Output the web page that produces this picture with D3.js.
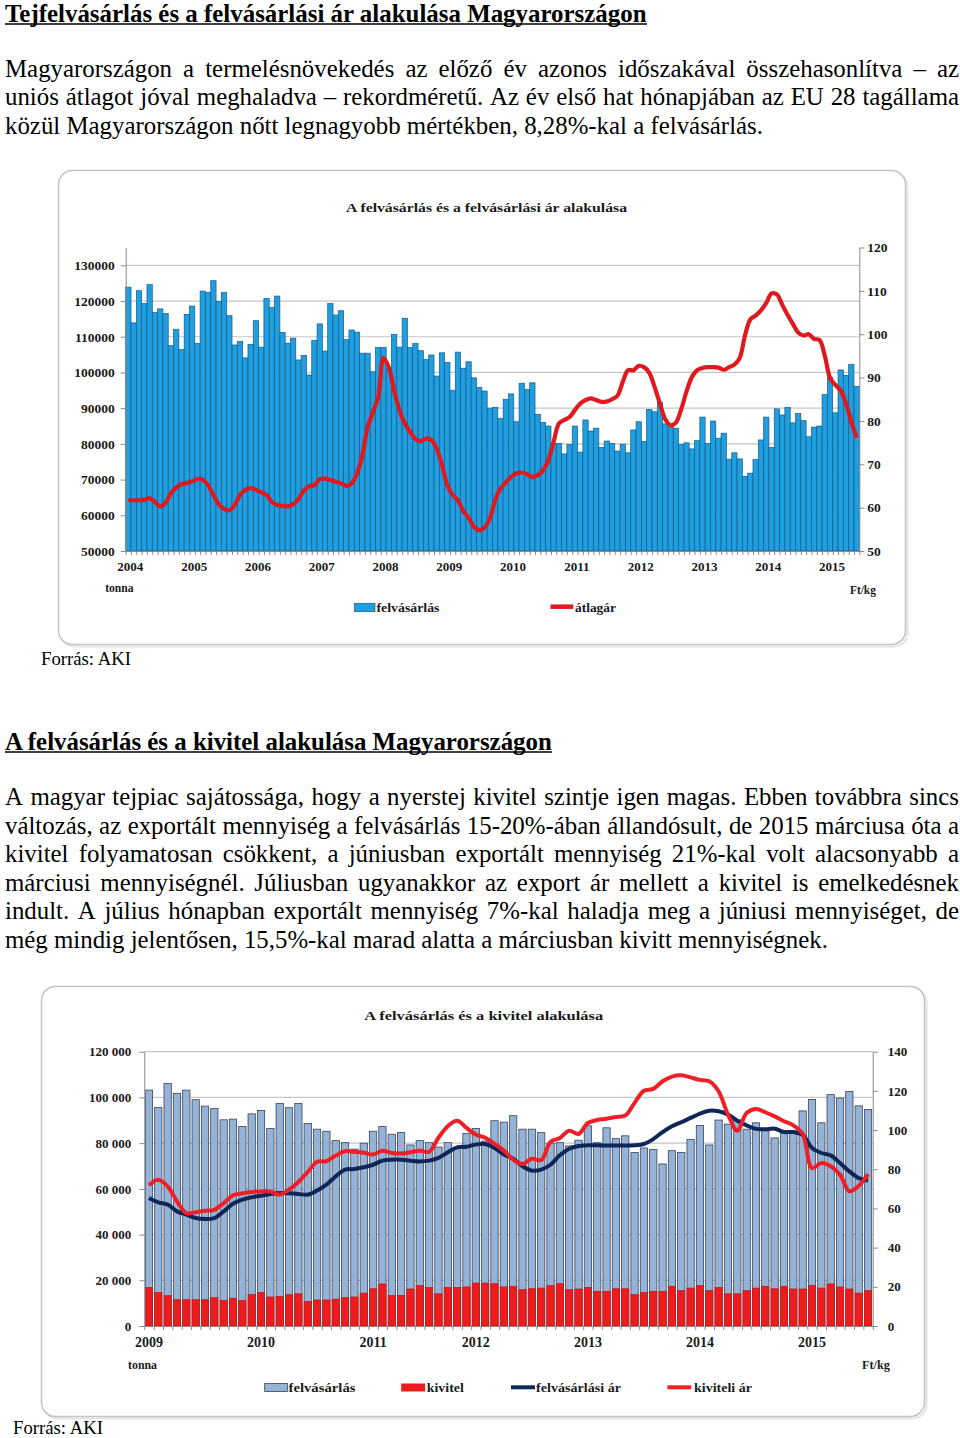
<!DOCTYPE html>
<html>
<head>
<meta charset="utf-8">
<script src="https://cdn.jsdelivr.net/npm/d3@7"></script>
<style>
  html, body { margin: 0; padding: 0; background: #fff; }
  #page { width: 960px; height: 1438px; position: relative; overflow: hidden; }
</style>
</head>
<body>
<div id="page"></div>
<script>
// ---------------- DATA ----------------
function monthRange(y0, m0, y1, m1) {
  const out = [];
  for (let y = y0; y <= y1; y++) for (let m = 1; m <= 12; m++) {
    if ((y === y0 && m < m0) || (y === y1 && m > m1)) continue;
    out.push(y + "-" + String(m).padStart(2, "0"));
  }
  return out;
}
// Chart 1: 2004-01 .. 2015-06
const months1 = monthRange(2004, 1, 2015, 6);
// felvásárlás (tonna)
const purchase1 = [
  123900, 113900, 122900, 119300, 124600, 116800, 117800, 116500, 107500, 112100, 106400, 116300,
  118600, 108100, 122800, 122400, 125700, 119900, 122400, 115900, 107700, 108700, 104100, 107900,
  114500, 107100, 120700, 118200, 121400, 111200, 108200, 109600, 103500, 104800, 99300, 109000,
  113600, 106000, 119300, 116100, 117300, 109200, 111900, 111300, 105400, 105400, 100200, 107000,
  107000, 101000, 110700, 107100, 115200, 107000, 108100, 106100, 103600, 104900, 99000, 105500,
  102800, 95000, 105700, 101200, 103000, 98500, 95800, 94800, 90000, 90200, 87100, 92500,
  94000, 86200, 97000, 95200, 97100, 88300, 86000, 85000, 80100, 80100, 77200, 79800,
  85000, 77700, 86700, 83600, 84400, 79000, 80800, 80100, 78000, 79900, 77500, 83900,
  86200, 80700, 89600, 89000, 91700, 85600, 84800, 84400, 79800, 80300, 78600, 80900,
  87500, 80100, 86400, 81600, 83000, 75700, 77500, 75800, 70900, 71800, 75600, 81100,
  87500, 79000, 89800, 88100, 90200, 85900, 88500, 86500, 82000, 84700, 85000, 93800,
  98700, 88700, 100700, 99200, 102200, 96100
];
// átlagár (Ft/kg)
const price1 = [
  61.7, 61.7, 61.7, 61.8, 62.2, 61.3, 60.3, 61.1, 63.3, 64.6, 65.4, 65.7,
  66.1, 66.6, 66.4, 65.2, 62.9, 60.8, 59.7, 59.4, 60.6, 62.9, 64.1, 64.5,
  64.1, 63.5, 62.9, 61.3, 60.6, 60.4, 60.3, 60.8, 62.0, 63.9, 64.9, 65.2,
  66.6, 66.7, 66.4, 66.0, 65.6, 65.0, 65.6, 67.8, 72.0, 78.5, 82.0, 85.5,
  94.5, 92.3, 87.0, 82.5, 79.4, 77.5, 75.8, 75.3, 75.9, 75.6, 73.6, 69.8,
  65.2, 62.9, 61.7, 59.2, 57.7, 55.6, 54.8, 55.4, 57.5, 61.7, 64.4, 65.8,
  67.1, 67.9, 68.1, 67.7, 67.1, 67.5, 68.6, 70.9, 75.2, 79.4, 80.2, 80.9,
  82.5, 84.0, 84.8, 85.2, 84.8, 84.4, 84.5, 85.0, 85.8, 89.0, 91.7, 91.7,
  92.7, 92.4, 91.1, 87.8, 84.0, 80.4, 79.0, 79.6, 82.7, 86.8, 90.1, 91.7,
  92.2, 92.4, 92.4, 92.3, 91.8, 92.4, 93.0, 94.5, 99.7, 103.4, 104.3, 105.5,
  107.2, 109.4, 109.2, 106.8, 104.5, 102.4, 100.4, 99.7, 100.0, 98.9, 98.7, 95.1,
  89.9, 88.3, 87.0, 84.0, 79.8, 76.1
];
const leftTicks1 = [50000, 60000, 70000, 80000, 90000, 100000, 110000, 120000, 130000];
const rightTicks1 = [50, 60, 70, 80, 90, 100, 110, 120];

// Chart 2: 2009-01 .. 2015-07 (February 2011 is absent from the chart)
const missing2 = ["2011-02"];
const months2 = monthRange(2009, 1, 2015, 7).filter(m => !missing2.includes(m));
const purchase2 = [
  103200, 95600, 106100, 101800, 103200, 99000, 96200, 95200, 90200, 90500, 87300, 92800,
  94300, 86400, 97400, 95500, 97400, 88600, 86100, 85200, 81100, 80200, 77400, 80000,
  85200, 87300, 83900, 84600, 79200, 81100, 80200, 78300, 80200, 77700, 84200,
  86400, 80900, 89800, 89200, 92000, 86100, 86100, 84600, 80000, 80200, 78800, 81300,
  87600, 80200, 86700, 82000, 83200, 75900, 77900, 77200, 70900, 76700, 75900, 81600,
  87700, 79200, 90100, 88300, 90200, 86100, 88900, 85400, 82300, 85400, 85400, 94100,
  99100, 88900, 101200, 99700, 102600, 96300, 94700
];
const export2 = [
  16900, 14700, 13300, 11500, 11500, 11500, 11500, 12400, 11200, 12200, 11200, 13700,
  14700, 12700, 13000, 13700, 14100, 10800, 11400, 11400, 11800, 12500, 12700, 14400,
  16300, 18400, 13400, 13400, 16200, 17700, 16900, 14100, 16900, 16900, 17100,
  18800, 18800, 18500, 17100, 17400, 15900, 16300, 16600, 17700, 18500, 15900, 16200,
  16900, 15200, 15200, 16300, 16300, 13700, 14700, 15200, 15200, 17400, 15500, 16600,
  17700, 15500, 16900, 14100, 14100, 15500, 16600, 17400, 16300, 17400, 16200, 16200,
  17800, 16600, 18400, 17100, 16200, 14400, 15500
];
const purchasePrice2 = [
  65.3, 63.1, 62.0, 58.5, 56.8, 55.1, 54.6, 55.1, 58.5, 62.4, 64.5, 65.7,
  66.5, 67.4, 67.9, 67.7, 67.4, 67.0, 69.1, 72.2, 76.4, 79.8, 80.1, 81.0,
  82.3, 84.4, 84.9, 84.9, 84.4, 84.0, 84.4, 85.8, 88.7, 91.2, 91.5,
  92.6, 92.9, 90.9, 87.5, 85.4, 81.5, 79.3, 79.8, 82.3, 87.1, 90.5, 91.9,
  92.2, 92.2, 92.1, 92.1, 92.1, 92.2, 92.9, 95.4, 99.0, 101.9, 104.0, 106.2,
  108.4, 109.9, 109.6, 107.9, 104.8, 102.4, 100.6, 100.4, 100.7, 99.0, 99.0, 97.6,
  90.9, 88.3, 87.1, 83.2, 78.9, 75.5, 74.3
];
const exportPrice2 = [
  71.8, 74.7, 71.3, 63.6, 57.6, 58.1, 58.8, 59.3, 62.7, 66.7, 67.7, 68.4,
  68.7, 68.6, 67.0, 69.6, 73.5, 78.6, 83.8, 84.1, 87.0, 89.2, 88.9, 88.4,
  87.5, 89.5, 88.3, 88.0, 88.7, 89.5, 88.9, 96.1, 102.0, 104.8, 101.1,
  97.7, 96.1, 93.0, 89.5, 84.9, 82.7, 85.4, 84.7, 93.9, 96.0, 99.7, 98.0,
  103.6, 105.2, 105.8, 106.7, 107.4, 113.9, 120.1, 121.0, 124.9, 127.3, 128.0, 126.9,
  125.6, 124.9, 119.8, 107.9, 99.7, 108.7, 110.8, 109.1, 107.0, 104.5, 102.4, 98.0,
  80.6, 83.2, 81.5, 77.2, 68.8, 71.5, 77.5
];
const leftTicks2 = [0, 20000, 40000, 60000, 80000, 100000, 120000];
const rightTicks2 = [0, 20, 40, 60, 80, 100, 120, 140];

// ---------------- TEXT ----------------
const heading1 = "Tejfelvásárlás és a felvásárlási ár alakulása Magyarországon";
const para1 = [
  "Magyarországon a termelésnövekedés az előző év azonos időszakával összehasonlítva – az",
  "uniós átlagot jóval meghaladva – rekordméretű. Az év első hat hónapjában az EU 28 tagállama",
  "közül Magyarországon nőtt legnagyobb mértékben, 8,28%-kal a felvásárlás."
];
const heading2 = "A felvásárlás és a kivitel alakulása Magyarországon";
const para2 = [
  "A magyar tejpiac sajátossága, hogy a nyerstej kivitel szintje igen magas. Ebben továbbra sincs",
  "változás, az exportált mennyiség a felvásárlás 15-20%-ában állandósult, de 2015 márciusa óta a",
  "kivitel folyamatosan csökkent, a júniusban exportált mennyiség 21%-kal volt alacsonyabb a",
  "márciusi mennyiségnél. Júliusban ugyanakkor az export ár mellett a kivitel is emelkedésnek",
  "indult. A július hónapban exportált mennyiség 7%-kal haladja meg a júniusi mennyiséget, de",
  "még mindig jelentősen, 15,5%-kal marad alatta a márciusban kivitt mennyiségnek."
];
const sourceText = "Forrás: AKI";
const title1 = "A felvásárlás és a felvásárlási ár alakulása";
const title2 = "A felvásárlás és a kivitel alakulása";

// ---------------- DRAW ----------------
const SERIF = "'Liberation Serif','Times New Roman',serif";
const svg = d3.select("#page").append("svg")
  .attr("width", 960).attr("height", 1438)
  .style("position", "absolute").style("left", 0).style("top", 0);
svg.append("rect").attr("width", 960).attr("height", 1438).attr("fill", "#fff");

function measure(text, weight, size) {
  const t = svg.append("text").attr("font-family", SERIF).attr("font-weight", weight)
    .attr("font-size", size).text(text);
  const w = t.node().getComputedTextLength();
  t.remove();
  return w;
}
function fitSize(text, weight, width) { return 100 * width / measure(text, weight, 100); }

function plainLine(text, x, y, size, weight) {
  return svg.append("text").attr("x", x).attr("y", y).attr("font-family", SERIF)
    .attr("font-size", size).attr("font-weight", weight || "normal").attr("fill", "#000").text(text);
}
function justifiedLine(text, x0, x1, y, size) {
  const words = text.split(" ");
  const g = svg.append("g").attr("font-family", SERIF).attr("font-size", size).attr("fill", "#000");
  const nodes = words.map(w => g.append("text").attr("y", y).text(w));
  const widths = nodes.map(n => n.node().getComputedTextLength());
  const gap = (x1 - x0 - d3.sum(widths)) / (words.length - 1);
  let x = x0;
  nodes.forEach((n, i) => { n.attr("x", x); x += widths[i] + gap; });
}
function heading(text, x, y, width) {
  const s = fitSize(text, "bold", width);
  plainLine(text, x, y, s, "bold");
  svg.append("line").attr("x1", x).attr("x2", x + width).attr("y1", y + 2.5).attr("y2", y + 2.5)
    .attr("stroke", "#000").attr("stroke-width", 1.4);
}

heading(heading1, 5, 21.5, 642);
const p1size = fitSize(para1[2], "normal", 758);
para1.forEach((l, i) => {
  const y = 76.5 + i * 28.5;
  if (i < para1.length - 1) justifiedLine(l, 5, 959, y, p1size);
  else plainLine(l, 5, y, p1size);
});
const srcSize = fitSize(sourceText, "normal", 90);
plainLine(sourceText, 41, 665, srcSize);

heading(heading2, 5, 749.5, 547);
const p2size = fitSize(para2[5], "normal", 823);
para2.forEach((l, i) => {
  const y = 805 + i * 28.6;
  if (i < para2.length - 1) justifiedLine(l, 5, 959, y, p2size);
  else plainLine(l, 5, y, p2size);
});
plainLine(sourceText, 13, 1434, srcSize);

function styleAxis(g, size) {
  g.select(".domain").attr("stroke", "#8a8a8a").attr("stroke-width", 1);
  g.selectAll(".tick line").attr("stroke", "#8a8a8a");
  g.selectAll(".tick text").attr("font-family", SERIF).attr("font-weight", "bold")
    .attr("font-size", size).attr("fill", "#1a1a1a");
}
function smallText(text, x, y, width, anchor, size) {
  svg.append("text").attr("x", x).attr("y", y).attr("font-family", SERIF).attr("font-weight", "bold")
    .attr("font-size", size || 12).attr("text-anchor", anchor || "start").attr("fill", "#1a1a1a")
    .attr("textLength", width).attr("lengthAdjust", "spacingAndGlyphs").text(text);
}
function frame(x, y, w, h) {
  svg.append("rect").attr("x", x + 2).attr("y", y + 2).attr("width", w).attr("height", h).attr("rx", 14)
    .attr("fill", "none").attr("stroke", "#e4e4e4").attr("stroke-width", 2);
  svg.append("rect").attr("x", x).attr("y", y).attr("width", w).attr("height", h).attr("rx", 14)
    .attr("fill", "#fff").attr("stroke", "#c4c4c4").attr("stroke-width", 1.5);
}

// ===== Chart 1 =====
(function () {
  frame(58.5, 170.5, 847, 474);
  const L = 125.7, R = 859.3, B = 551, T = 247.5;
  const x = d3.scaleBand().domain(months1).range([L, R]).padding(0);
  const xi = d3.scaleLinear().domain([0, months1.length]).range([L, R]);
  const yL = d3.scaleLinear().domain([50000, 135000]).range([B, T]);
  const yR = d3.scaleLinear().domain([50, 120]).range([B, T]);

  smallText(title1, 486.5, 211.5, 281, "middle", 13);

  svg.append("g").selectAll("line").data(leftTicks1.filter(v => v > 50000)).join("line")
    .attr("x1", L).attr("x2", R).attr("y1", d => yL(d)).attr("y2", d => yL(d))
    .attr("stroke", "#c6c6c6").attr("stroke-width", 1.2);

  svg.append("g").selectAll("rect").data(purchase1).join("rect")
    .attr("x", (d, i) => x(months1[i])).attr("width", x.bandwidth())
    .attr("y", d => yL(d)).attr("height", d => B - yL(d))
    .attr("fill", "#1f9fdf").attr("stroke", "#165a88").attr("stroke-width", 0.7);

  const line = d3.line().x((d, i) => x(months1[i]) + x.bandwidth() / 2).y(d => yR(d))
    .curve(d3.curveCatmullRom.alpha(0.5));
  svg.append("path").attr("d", line(price1)).attr("fill", "none")
    .attr("stroke", "#e0191e").attr("stroke-width", 4.2).attr("stroke-linejoin", "round");

  const gl = svg.append("g").attr("transform", `translate(${L},0)`)
    .call(d3.axisLeft(yL).tickValues(leftTicks1).tickFormat(d3.format("d")).tickSize(5).tickSizeOuter(0).tickPadding(6));
  styleAxis(gl, 13.5);
  const gr = svg.append("g").attr("transform", `translate(${R},0)`)
    .call(d3.axisRight(yR).tickValues(rightTicks1).tickSize(5).tickSizeOuter(0).tickPadding(3));
  styleAxis(gr, 13.5);
  const gb = svg.append("g").attr("transform", `translate(0,${B})`)
    .call(d3.axisBottom(xi).tickValues(d3.range(0, months1.length + 1)).tickFormat("").tickSize(4).tickSizeOuter(0));
  styleAxis(gb, 12);
  const gy = svg.append("g").attr("transform", `translate(2,${B})`)
    .call(d3.axisBottom(x).tickValues(months1.filter(m => m.endsWith("-01"))).tickFormat(m => m.slice(0, 4)).tickSize(0).tickPadding(11));
  gy.select(".domain").remove();
  styleAxis(gy, 13);

  smallText("tonna", 105.2, 592, 28.4, "start", 11.5);
  smallText("Ft/kg", 850, 594, 25.8, "start", 11.5);

  svg.append("rect").attr("x", 354.3).attr("y", 603.3).attr("width", 20.7).attr("height", 8.4)
    .attr("fill", "#1f9fdf").attr("stroke", "#165a88").attr("stroke-width", 0.7);
  smallText("felvásárlás", 376.5, 612, 63, "start", 13);
  svg.append("line").attr("x1", 550.5).attr("x2", 573.3).attr("y1", 606.7).attr("y2", 606.7)
    .attr("stroke", "#e0191e").attr("stroke-width", 4.5);
  smallText("átlagár", 575, 612, 41, "start", 13);
})();

// ===== Chart 2 =====
(function () {
  frame(41.5, 986.5, 883, 430);
  const L = 144.3, R = 872.7, B = 1326, T = 1051.7;
  const x = d3.scaleBand().domain(months2).range([L, R]).paddingInner(0.22).paddingOuter(0.11);
  const xi = d3.scaleLinear().domain([0, months2.length]).range([L, R]);
  const yL = d3.scaleLinear().domain([0, 120000]).range([B, T]);
  const yR = d3.scaleLinear().domain([0, 140]).range([B, T]);
  const fmt = d3.formatLocale({ decimal: ",", thousands: " ", grouping: [3], currency: ["", ""] }).format(",d");

  smallText(title2, 483.7, 1020, 239, "middle", 13);

  svg.append("g").selectAll("line").data(leftTicks2.filter(v => v > 0)).join("line")
    .attr("x1", L).attr("x2", R).attr("y1", d => yL(d)).attr("y2", d => yL(d))
    .attr("stroke", "#c6c6c6").attr("stroke-width", 1.2);

  svg.append("g").selectAll("rect").data(purchase2).join("rect")
    .attr("x", (d, i) => x(months2[i])).attr("width", x.bandwidth())
    .attr("y", d => yL(d)).attr("height", d => B - yL(d))
    .attr("fill", "#95b3d7").attr("stroke", "#37445a").attr("stroke-width", 0.8);
  svg.append("g").selectAll("rect").data(export2).join("rect")
    .attr("x", (d, i) => x(months2[i])).attr("width", x.bandwidth())
    .attr("y", d => yL(d)).attr("height", d => B - yL(d))
    .attr("fill", "#ee1c1c").attr("stroke", "#b81414").attr("stroke-width", 0.6);

  const line = d3.line().x((d, i) => x(months2[i]) + x.bandwidth() / 2).y(d => yR(d))
    .curve(d3.curveCatmullRom.alpha(0.5));
  svg.append("path").attr("d", line(purchasePrice2)).attr("fill", "none")
    .attr("stroke", "#0e2658").attr("stroke-width", 4).attr("stroke-linejoin", "round");
  svg.append("path").attr("d", line(exportPrice2)).attr("fill", "none")
    .attr("stroke", "#ee1f26").attr("stroke-width", 4).attr("stroke-linejoin", "round");

  const gl = svg.append("g").attr("transform", `translate(${L},0)`)
    .call(d3.axisLeft(yL).tickValues(leftTicks2).tickFormat(fmt).tickSize(5).tickSizeOuter(0).tickPadding(8));
  styleAxis(gl, 13);
  const gr = svg.append("g").attr("transform", `translate(${R},0)`)
    .call(d3.axisRight(yR).tickValues(rightTicks2).tickSize(5).tickSizeOuter(0).tickPadding(10));
  styleAxis(gr, 13);
  const gb = svg.append("g").attr("transform", `translate(0,${B})`)
    .call(d3.axisBottom(xi).tickValues(d3.range(0, months2.length + 1)).tickFormat("").tickSize(4).tickSizeOuter(0));
  styleAxis(gb, 12);
  const gy = svg.append("g").attr("transform", `translate(0,${B})`)
    .call(d3.axisBottom(x).tickValues(months2.filter(m => m.endsWith("-01"))).tickFormat(m => m.slice(0, 4)).tickSize(0).tickPadding(11));
  gy.select(".domain").remove();
  styleAxis(gy, 14);

  smallText("tonna", 128, 1368.5, 29, "start", 11.5);
  smallText("Ft/kg", 862, 1368.5, 28, "start", 11.5);

  const ly = 1391.5;
  svg.append("rect").attr("x", 264.7).attr("y", 1383.5).attr("width", 22.7).attr("height", 8)
    .attr("fill", "#95b3d7").attr("stroke", "#37445a").attr("stroke-width", 0.8);
  smallText("felvásárlás", 288.5, ly, 67, "start", 13);
  svg.append("rect").attr("x", 401.2).attr("y", 1383.5).attr("width", 23.9).attr("height", 8)
    .attr("fill", "#ee1c1c");
  smallText("kivitel", 426.8, ly, 37, "start", 13);
  svg.append("line").attr("x1", 511).attr("x2", 535).attr("y1", 1387.3).attr("y2", 1387.3)
    .attr("stroke", "#0e2658").attr("stroke-width", 4);
  smallText("felvásárlási ár", 536, ly, 85, "start", 13);
  svg.append("line").attr("x1", 667.4).attr("x2", 691.3).attr("y1", 1387.3).attr("y2", 1387.3)
    .attr("stroke", "#ee1f26").attr("stroke-width", 4);
  smallText("kiviteli ár", 694, ly, 58, "start", 13);
})();
</script>
</body>
</html>
